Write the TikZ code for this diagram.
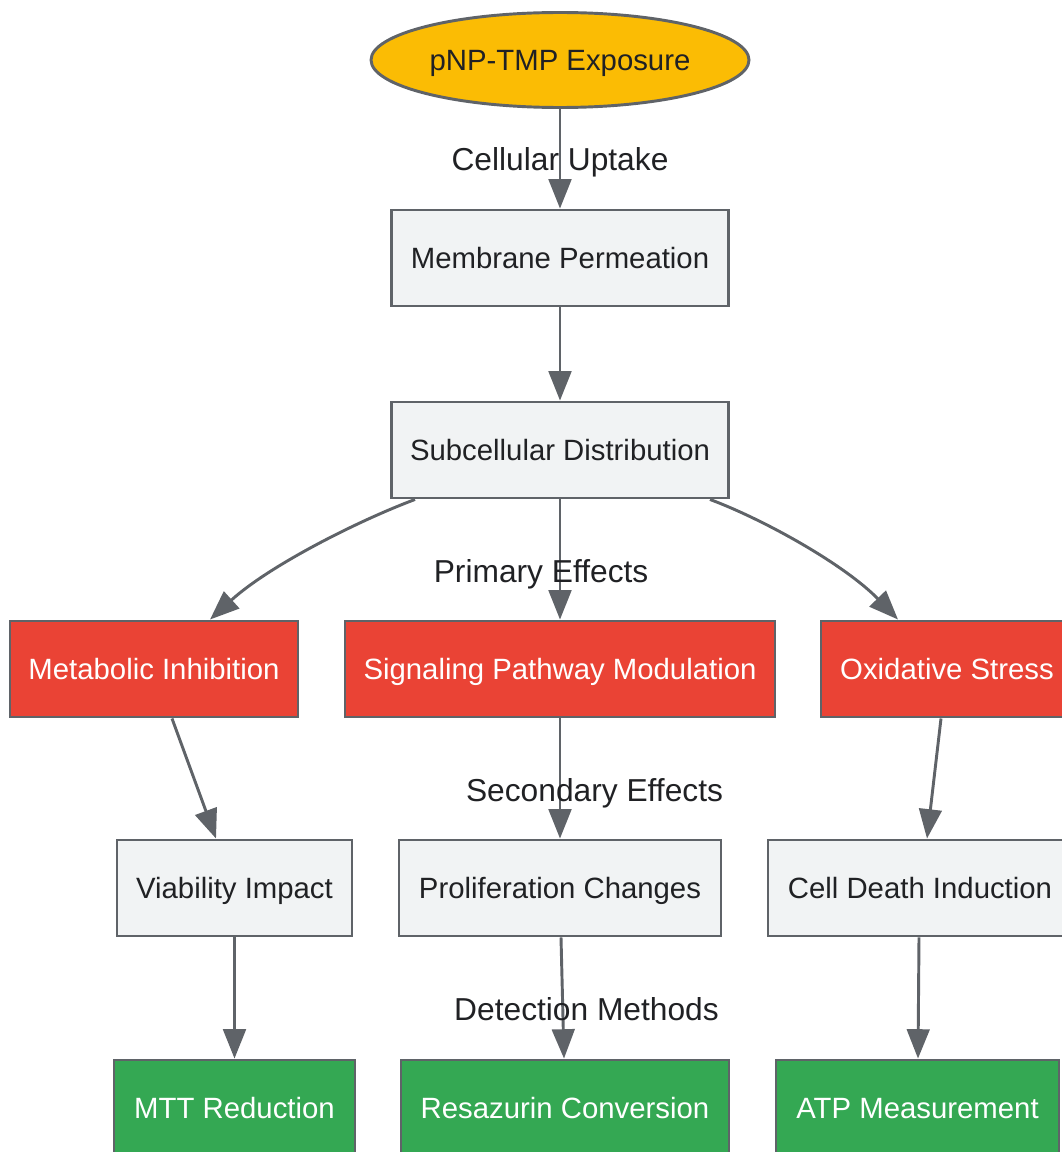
\documentclass[tikz,border=0pt]{standalone}
\usepackage{fontspec}
\setmainfont{Liberation Sans}
\usetikzlibrary{shapes.geometric,arrows.meta,calc}
\definecolor{edgec}{HTML}{5F6368}
\definecolor{gfill}{HTML}{F1F3F4}
\definecolor{rfill}{HTML}{EA4335}
\definecolor{grfill}{HTML}{34A853}
\definecolor{yfill}{HTML}{FBBC04}
\definecolor{txt}{HTML}{202124}
\begin{document}
\begin{tikzpicture}[x=0.75pt,y=-0.75pt,
  font=\fontsize{22}{26}\selectfont,
  basebox/.style={draw=edgec, line width=2.2pt, rectangle, inner sep=0pt, minimum height=0.75*96pt, text height=15.75pt, text depth=0pt},
  gbox/.style={basebox, fill=gfill, text=txt},
  rbox/.style={basebox, fill=rfill, text=white},
  grbox/.style={basebox, fill=grfill, text=white},
  ebox/.style={draw=edgec, line width=2.2pt, ellipse, inner sep=0pt, fill=yfill, text=txt, minimum width=0.75*378pt, minimum height=0.75*95pt, text height=15.75pt, text depth=0pt},
  conn/.style={draw=edgec, line width=2.2pt, -{Triangle[length=22pt,width=17pt]}},
  lbl/.style={text=txt, inner sep=0pt, font=\fontsize{23.8}{28}\selectfont, text height=17pt, text depth=0pt}
]
\useasboundingbox (0,0) rectangle (1062,1152);

\node[ebox] (exp) at (560,60) {pNP-TMP Exposure};
\node[gbox, minimum width=0.75*337pt] (mem) at (560,258) {Membrane Permeation};
\node[gbox, minimum width=0.75*337pt] (sub) at (560,450) {Subcellular Distribution};

\node[rbox, minimum width=0.75*288pt] (met) at (154,669) {Metabolic Inhibition};
\node[rbox, minimum width=0.75*430pt] (sig) at (560,669) {Signaling Pathway Modulation};
\node[rbox, minimum width=0.75*252pt] (oxi) at (947,669) {Oxidative Stress};

\node[gbox, minimum width=0.75*235pt] (via) at (234.5,888) {Viability Impact};
\node[gbox, minimum width=0.75*322pt] (pro) at (560,888) {Proliferation Changes};
\node[gbox, minimum width=0.75*304pt] (cel) at (920,888) {Cell Death Induction};

\node[grbox, minimum width=0.75*241pt] (mtt) at (234.5,1108) {MTT Reduction};
\node[grbox, minimum width=0.75*328pt] (res) at (565,1108) {Resazurin Conversion};
\node[grbox, minimum width=0.75*283pt] (atp) at (917.5,1108) {ATP Measurement};

\draw[conn] (exp) -- (mem) node[lbl, pos=0.5] {Cellular Uptake};
\draw[conn] (mem) -- (sub);

\draw[conn] ($(sub.south)+(-145,0)$) .. controls (360,520) and (270,565) .. ($(met.north)+(56,0)$);
\draw[conn] (sub.south) -- (sig.north) node[lbl, pos=0.596, xshift=-14.2pt] {Primary Effects};
\draw[conn] ($(sub.south)+(150,0)$) .. controls (765,520) and (845,565) .. ($(oxi.north)+(-49,0)$);

\draw[conn] ($(met.south)+(18,0)$) -- ($(via.north)+(-18.5,0)$);
\draw[conn] (sig.south) -- (pro.north) node[lbl, pos=0.6, xshift=25.9pt] {Secondary Effects};
\draw[conn] ($(oxi.south)+(-6,0)$) -- ($(cel.north)+(7,0)$);

\draw[conn] (via.south) -- (mtt.north);
\draw[conn] ($(pro.south)+(1,0)$) -- ($(res.north)+(-1,0)$) node[lbl, pos=0.595, xshift=17.8pt] {Detection Methods};
\draw[conn] ($(cel.south)+(-1,0)$) -- ($(atp.north)+(0.5,0)$);
\end{tikzpicture}
\end{document}
